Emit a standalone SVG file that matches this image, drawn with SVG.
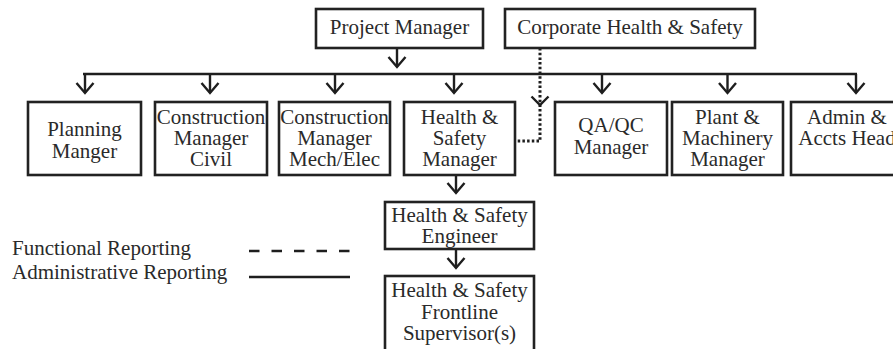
<svg xmlns="http://www.w3.org/2000/svg" width="893" height="349" viewBox="0 0 893 349">
<defs>
<marker id="chev" viewBox="-12 -11 14 22" markerWidth="14" markerHeight="22" refX="0" refY="0" orient="auto" markerUnits="userSpaceOnUse" overflow="visible">
<path d="M-10,-8.5 L0,0 L-10,8.5" fill="none" stroke="#1e1e1e" stroke-width="2.4"/>
</marker>
</defs>
<style>
.box{fill:#fff;stroke:#222;stroke-width:2.6}
.t{font-size:21px;fill:#2a2a2a;text-anchor:middle}
.lt{font-size:21px;fill:#2a2a2a}
.ln{fill:none;stroke:#1e1e1e;stroke-width:2.6}
.ar{fill:none;stroke:#1e1e1e;stroke-width:2.4;marker-end:url(#chev)}
.dot{fill:none;stroke:#1e1e1e;stroke-width:3;stroke-dasharray:2.5 2.2}
</style>
<rect width="893" height="349" fill="#fff"/>
<g id="connectors">
<line class="ar" x1="397" y1="48" x2="397" y2="67"/>
<line class="ln" x1="83" y1="74" x2="857" y2="74"/>
<line class="ar" x1="85" y1="74" x2="85" y2="93"/>
<line class="ar" x1="210" y1="74" x2="210" y2="93"/>
<line class="ar" x1="335" y1="74" x2="335" y2="93"/>
<line class="ar" x1="454" y1="74" x2="454" y2="93"/>
<line class="ar" x1="602" y1="74" x2="602" y2="93"/>
<line class="ar" x1="727.5" y1="74" x2="727.5" y2="93"/>
<line class="ar" x1="856" y1="74" x2="856" y2="93"/>
<polyline class="dot" points="540,48 540,141 516,141"/>
<path d="M531.5,96.5 L540,105 L548.5,96.5" fill="none" stroke="#1e1e1e" stroke-width="2.4"/>
<line class="ar" x1="456" y1="175" x2="456" y2="193"/>
<line class="ar" x1="456" y1="249" x2="456" y2="268"/>
</g>
<g font-family="Liberation Serif, Times New Roman, serif">
<g id="pm"><rect class="box" x="316" y="9" width="167" height="39"/><text class="t" x="399.5" y="34">Project Manager</text></g>
<g id="corp"><rect class="box" x="505" y="9" width="250" height="39"/><text class="t" x="630" y="34">Corporate Health &amp; Safety</text></g>
<g id="planning"><rect class="box" x="28" y="102" width="113" height="73"/><text class="t" x="84.5" y="136">Planning</text><text class="t" x="84.5" y="158">Manger</text></g>
<g id="civil"><rect class="box" x="155" y="102" width="112" height="73"/><text class="t" x="211" y="124">Construction</text><text class="t" x="211" y="145">Manager</text><text class="t" x="211" y="166">Civil</text></g>
<g id="mech"><rect class="box" x="279" y="102" width="111" height="73"/><text class="t" x="334.5" y="124">Construction</text><text class="t" x="334.5" y="145">Manager</text><text class="t" x="334.5" y="166">Mech/Elec</text></g>
<g id="hsm"><rect class="box" x="404" y="102" width="111" height="73"/><text class="t" x="459.5" y="124">Health &amp;</text><text class="t" x="459.5" y="145">Safety</text><text class="t" x="459.5" y="166">Manager</text></g>
<g id="qaqc"><rect class="box" x="555" y="102" width="112" height="73"/><text class="t" x="611" y="132">QA/QC</text><text class="t" x="611" y="154">Manager</text></g>
<g id="plant"><rect class="box" x="672" y="102" width="111" height="73"/><text class="t" x="727.5" y="124">Plant &amp;</text><text class="t" x="727.5" y="145">Machinery</text><text class="t" x="727.5" y="166">Manager</text></g>
<g id="admin"><rect class="box" x="791" y="102" width="112" height="73"/><text class="t" x="847" y="124">Admin &amp;</text><text class="t" x="847" y="145">Accts Head</text></g>
<g id="hse"><rect class="box" x="385" y="202" width="149" height="47"/><text class="t" x="459.5" y="222">Health &amp; Safety</text><text class="t" x="459.5" y="243">Engineer</text></g>
<g id="hsf"><rect class="box" x="385" y="276" width="149" height="78"/><text class="t" x="459.5" y="297">Health &amp; Safety</text><text class="t" x="459.5" y="319">Frontline</text><text class="t" x="459.5" y="340">Supervisor(s)</text></g>
<g id="legend">
<text class="lt" x="12" y="255">Functional Reporting</text>
<text class="lt" x="12" y="279">Administrative Reporting</text>
<line x1="249" y1="251" x2="350" y2="251" stroke="#1e1e1e" stroke-width="2.6" stroke-dasharray="10.5 12"/>
<line class="ln" x1="249" y1="277" x2="350" y2="277"/>
</g>
</g>
</svg>
